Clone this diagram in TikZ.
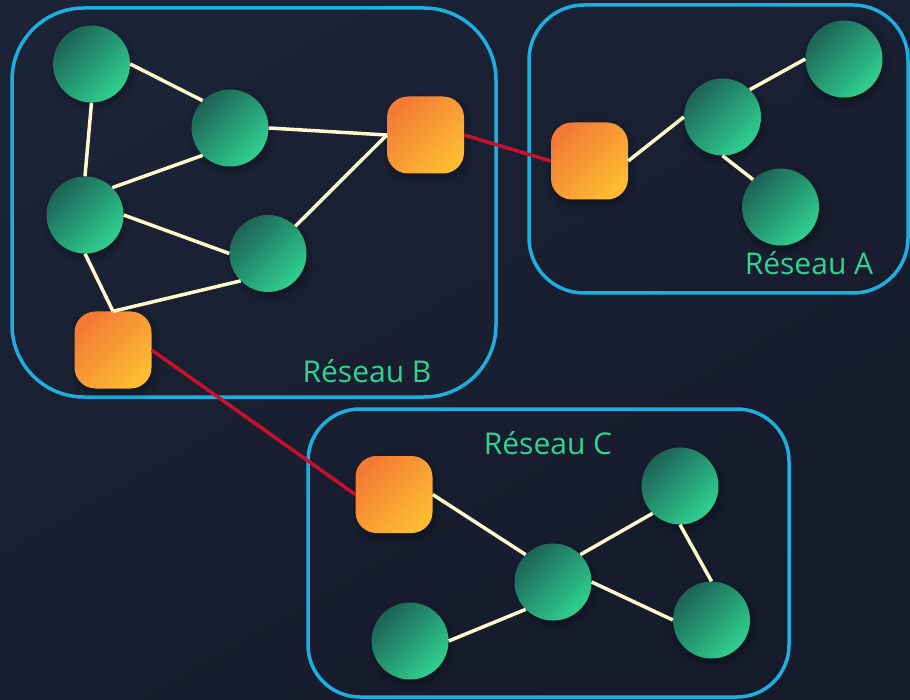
\documentclass[tikz,border=0pt]{standalone}
\usepackage{fontspec}
\setmainfont{Open Sans}
\usetikzlibrary{shadows.blur}
\definecolor{bgA}{HTML}{1B2336}
\definecolor{bgB}{HTML}{161B2B}
\definecolor{frame}{HTML}{1CAFE0}
\definecolor{tealD}{HTML}{1D6357}
\definecolor{tealL}{HTML}{2FD090}
\definecolor{orD}{HTML}{F47B36}
\definecolor{orL}{HTML}{FDBC30}
\definecolor{link}{HTML}{FCF9CC}
\definecolor{wan}{HTML}{C8102E}
\definecolor{lbl}{HTML}{2FD493}
\begin{document}
\begin{tikzpicture}[x=1pt,y=-1pt,
  softshadow/.style={blur shadow={shadow xshift=2pt, shadow yshift=-4pt, shadow blur radius=8pt, shadow opacity=35}},
  host/.style={circle, minimum size=77pt, inner sep=0pt, top color=tealD, bottom color=tealL, shading angle=45, softshadow},
  router/.style={rectangle, rounded corners=21pt, minimum size=77pt, inner sep=0pt, top color=orD, bottom color=orL, shading angle=45, softshadow},
  lan/.style={draw=link, line width=3.5pt},
  wanlink/.style={draw=wan, line width=3.5pt},
  cluster/.style={draw=frame, line width=3.5pt},
  netlabel/.style={text=lbl, font=\fontsize{30}{30}\selectfont, anchor=base, inner sep=0pt}]
\useasboundingbox (0,0) rectangle (910,700);
\shade[top color=bgA, bottom color=bgB, shading angle=30] (0,0) rectangle (910,700);

% clusters
\draw[cluster, rounded corners=72pt] (12,8) rectangle (496,397);
\draw[cluster, rounded corners=55pt] (529,5) rectangle (908,293);
\draw[cluster, rounded corners=52pt] (308,409) rectangle (789,697);

% labels
\node[netlabel] (lblB) at (367,382) {Réseau B};
\node[netlabel] (lblA) at (809,275) {Réseau A};
\node[netlabel] (lblC) at (548,454) {Réseau C};

% network B
\node[host] (n1) at (91.5,64) {};
\node[host] (n2) at (230,128) {};
\node[host] (n3) at (85,215) {};
\node[host] (n4) at (268,253.5) {};
\node[router] (rB1) at (425.5,135) {};
\node[router] (rB2) at (113,350) {};

% network A
\node[router] (rA) at (589.5,161) {};
\node[host] (a1) at (722.5,117) {};
\node[host] (a2) at (844,59) {};
\node[host] (a3) at (780.5,207) {};

% network C
\node[router] (rC) at (394,494.5) {};
\node[host] (c1) at (553,582) {};
\node[host] (c2) at (680,486) {};
\node[host] (c3) at (711.5,620) {};
\node[host] (c4) at (410,641) {};

% links B
\draw[lan] (n1.east) -- (n2.north west);
\draw[lan] (n1.south) -- (n3.north);
\draw[lan] (n2.south west) -- (n3.north east);
\draw[lan] (n2.east) -- (rB1.west);
\draw[lan] (n3.east) -- (n4.west);
\draw[lan] (n4.north east) -- (rB1.west);
\draw[lan] (n3.south) -- (rB2.north);
\draw[lan] (n4.south west) -- (rB2.north);

% links A
\draw[lan] (rA.east) -- (a1.west);
\draw[lan] (a1.north east) -- (a2.west);
\draw[lan] (a1.south) -- (a3.north west);

% links C
\draw[lan] (rC.east) -- (c1.north west);
\draw[lan] (c1.north east) -- (c2.south west);
\draw[lan] (c1.east) -- (c3.west);
\draw[lan] (c2.south) -- (c3.north);
\draw[lan] (c4.east) -- (c1.south west);

% inter-network links
\draw[wanlink] (rB1.east) -- (rA.west);
\draw[wanlink] (rB2.east) -- (rC.west);
\end{tikzpicture}
\end{document}
